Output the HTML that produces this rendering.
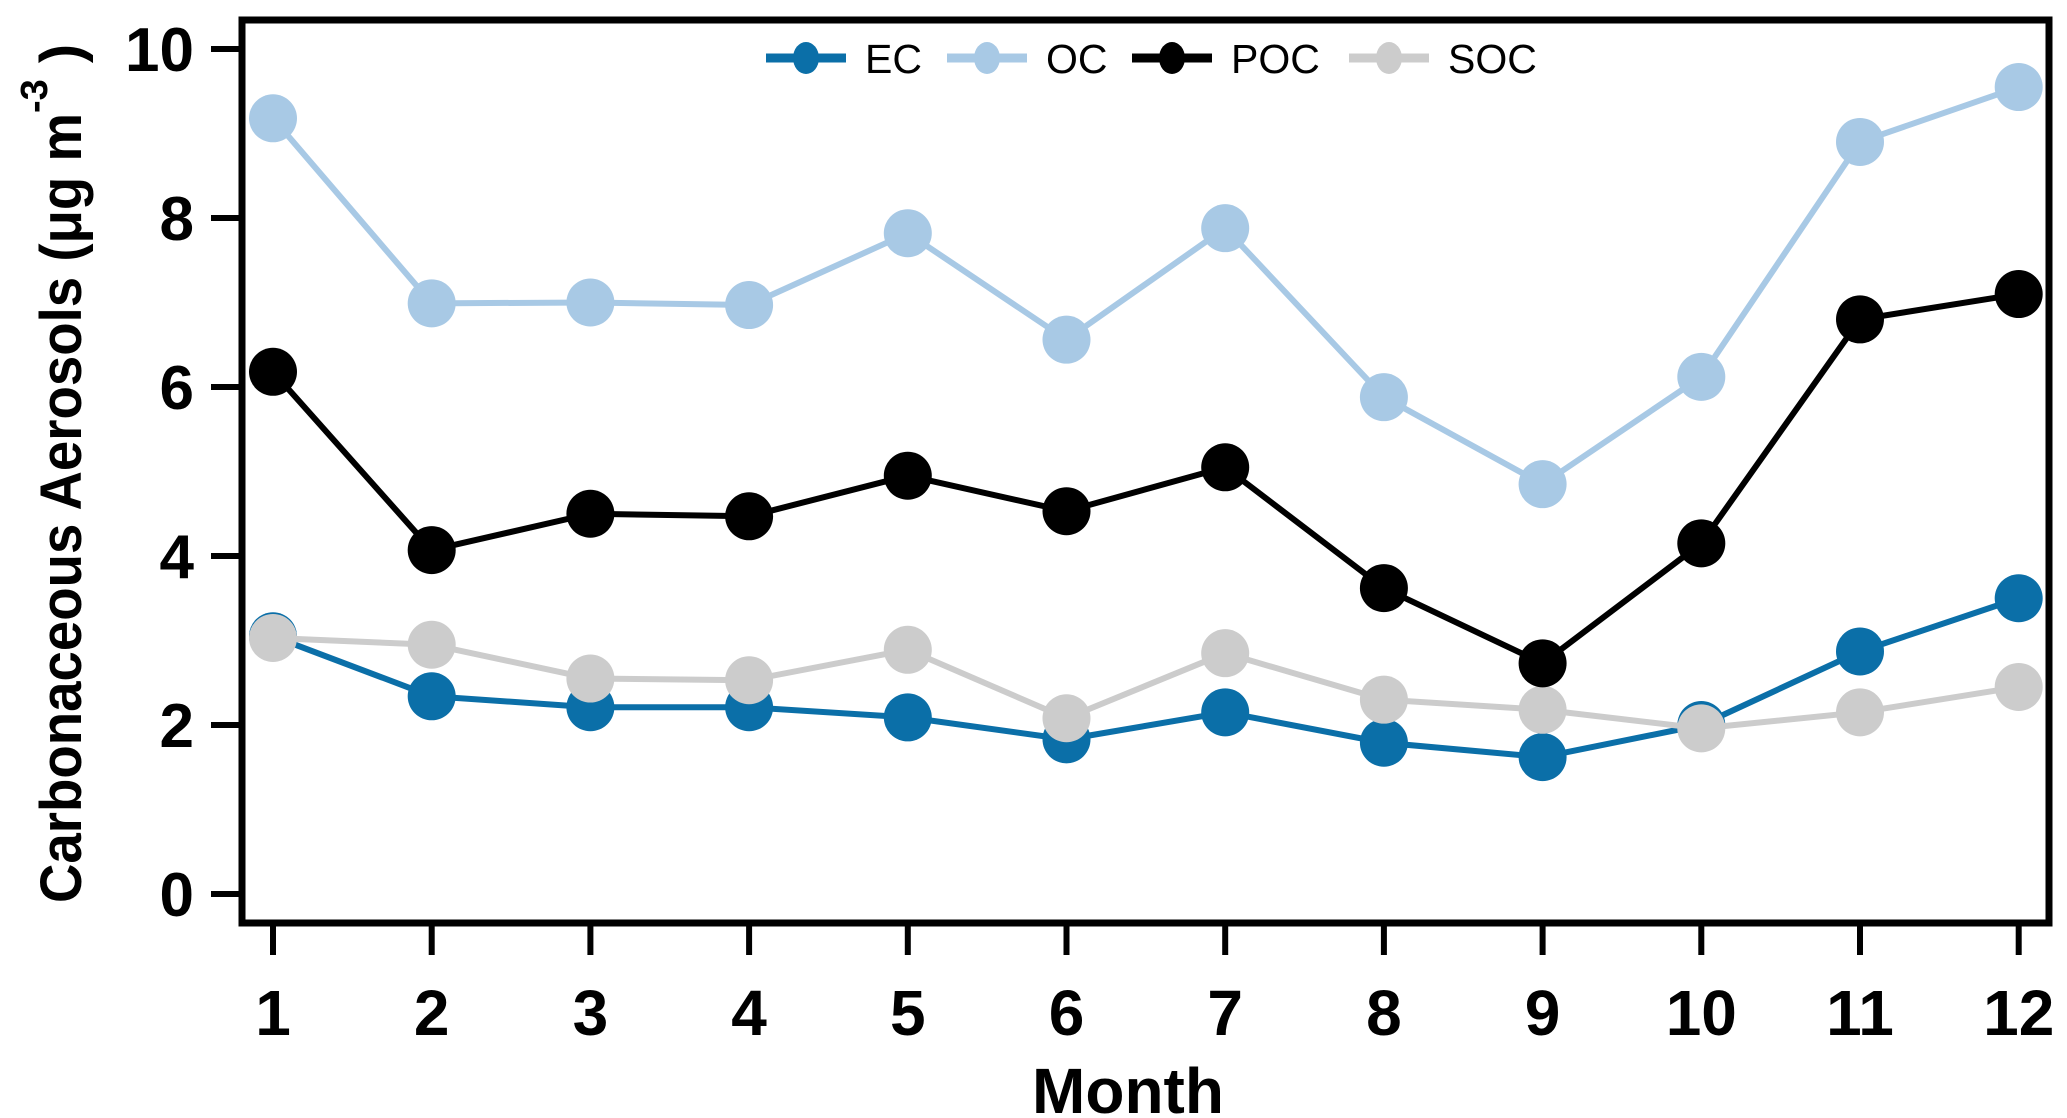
<!DOCTYPE html>
<html><head><meta charset="utf-8"><style>
html,body{margin:0;padding:0;background:#fff;}
svg{display:block;font-family:"Liberation Sans",Arial,sans-serif;}
</style></head><body>
<svg id="chart" width="2067" height="1118" viewBox="0 0 2067 1118" xmlns="http://www.w3.org/2000/svg">
<g id="marks"></g>
<rect x="242" y="20" width="1807" height="903" fill="none" stroke="#000" stroke-width="7"/>
<g id="axes"></g>
<text x="1128" y="1113" font-size="64" font-weight="bold" text-anchor="middle">Month</text>
<text transform="translate(81,903) rotate(-90)" font-size="58" font-weight="bold"><tspan textLength="790" lengthAdjust="spacingAndGlyphs">Carbonaceous Aerosols  (μg m</tspan><tspan dy="-34" font-size="38">-3</tspan><tspan dy="34"> )</tspan></text>
<g id="legend"></g>
</svg>
<script>
const months = [1,2,3,4,5,6,7,8,9,10,11,12];
const yTicks = [0,2,4,6,8,10];
const seriesNames = ["EC","OC","POC","SOC"];
const ecValues  = [3.05,2.34,2.21,2.21,2.09,1.83,2.15,1.79,1.62,2.0,2.87,3.5];
const ocValues  = [9.18,6.99,7.0,6.97,7.82,6.56,7.88,5.88,4.85,6.12,8.9,9.55];
const pocValues = [6.18,4.07,4.5,4.47,4.95,4.53,5.05,3.62,2.73,4.15,6.8,7.1];
const socValues = [3.03,2.95,2.55,2.53,2.89,2.08,2.85,2.3,2.18,1.96,2.15,2.45];

const NS="http://www.w3.org/2000/svg";
function xs(m){return 273+(m-1)*158.7;}
function ys(v){return 894-v*84.5;}
function mk(tag,attrs,parent){const e=document.createElementNS(NS,tag);for(const k in attrs)e.setAttribute(k,attrs[k]);parent.appendChild(e);return e;}

const axes=document.getElementById('axes');
yTicks.forEach(t=>{
  const l=mk('line',{x1:211,x2:242,y1:ys(t),y2:ys(t),stroke:'#000','stroke-width':6},axes);
  
  
  const tx=mk('text',{x:194,y:ys(t)+22,'font-size':62,'font-weight':'bold','text-anchor':'end'},axes);
  tx.textContent=t;
  
  
});
months.forEach(m=>{
  const l=mk('line',{x1:xs(m),x2:xs(m),y1:923,y2:955,stroke:'#000','stroke-width':6},axes);
  
  
  const tx=mk('text',{x:xs(m),y:1035,'font-size':64,'font-weight':'bold','text-anchor':'middle'},axes);
  tx.textContent=m;
  
  
});

const marks=document.getElementById('marks');
const drawOrder=[["EC",ecValues,"#0b6fa8"],["SOC",socValues,"#cccccc"],["POC",pocValues,"#000000"],["OC",ocValues,"#a8c9e5"]];
drawOrder.forEach(([name,vals,col])=>{
  const g=mk('g',{},marks);
  
  
  const pts=vals.map((v,i)=>xs(months[i])+','+ys(v)).join(' ');
  const pl=mk('polyline',{points:pts,fill:'none',stroke:col,'stroke-width':6,'stroke-linejoin':'round'},g);
  
  
  vals.forEach((v,i)=>{
    const c=mk('circle',{cx:xs(months[i]),cy:ys(v),r:24,fill:col},g);
    
    
  });
});

const legend=document.getElementById('legend');
const legendColors={EC:"#0b6fa8",OC:"#a8c9e5",POC:"#000000",SOC:"#cccccc"};
const legendX=[766,947,1132,1349];
seriesNames.forEach((n,i)=>{
  const g=mk('g',{},legend);
  
  
  const x0=legendX[i];
  mk('line',{x1:x0,x2:x0+80,y1:58,y2:58,stroke:legendColors[n],'stroke-width':9},g);
  mk('ellipse',{cx:x0+40,cy:58,rx:13,ry:16,fill:legendColors[n]},g);
  const t=mk('text',{x:x0+99,y:73,'font-size':41},g);
  t.textContent=n;
});
</script>
</body></html>
